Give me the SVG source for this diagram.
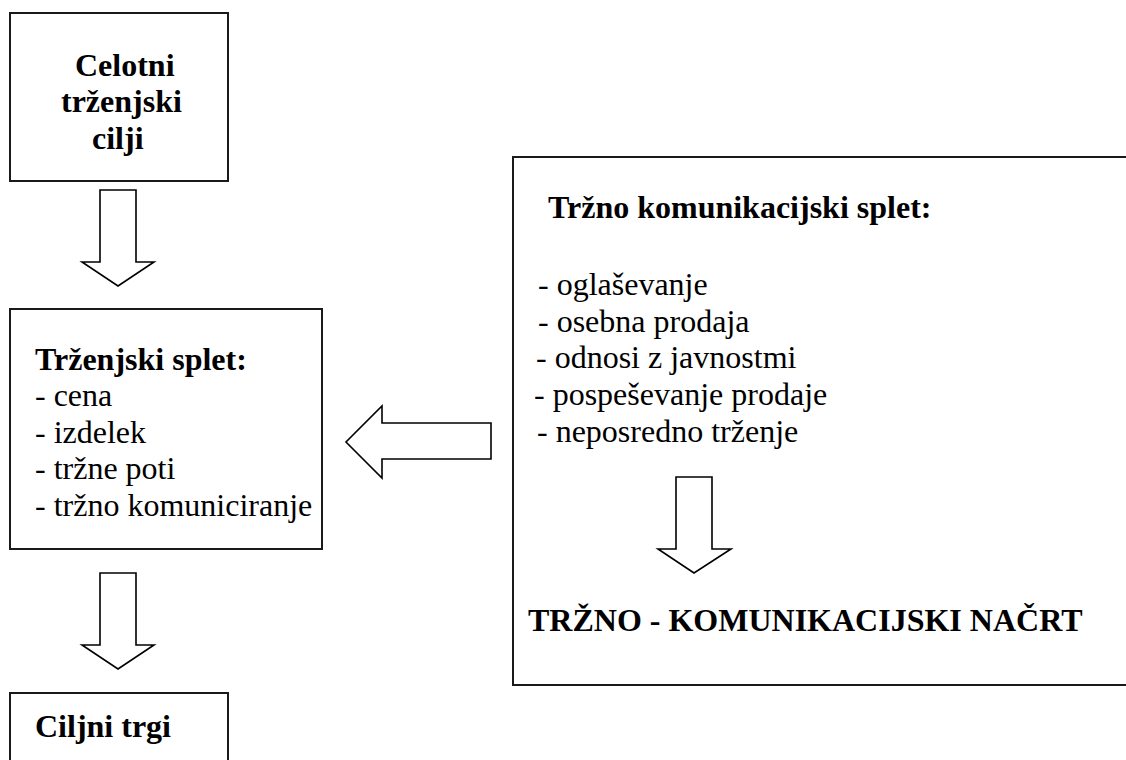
<svg xmlns="http://www.w3.org/2000/svg" width="1126" height="760" viewBox="0 0 1126 760">
<style>
.box{fill:#fff;stroke:#1a1a1a;stroke-width:2}
.arr{fill:#fff;stroke:#000;stroke-width:1.6;stroke-linejoin:miter}
text{font-family:"Liberation Serif","Times New Roman","DejaVu Serif",serif;font-size:32px;fill:#000}
.b{font-weight:bold}
</style>
<rect width="1126" height="760" fill="#fff"/>
<g id="node-celotni">
<rect class="box" x="10" y="13" width="218" height="168"/>
<text class="b" x="75" y="76">Celotni</text>
<text class="b" x="61" y="112">trženjski</text>
<text class="b" x="92" y="149">cilji</text>
</g>
<g id="node-trzenjski-splet">
<rect class="box" x="10" y="309" width="312" height="240"/>
<text class="b" x="35" y="370">Trženjski splet:</text>
<text x="35" y="406">- cena</text>
<text x="35" y="443">- izdelek</text>
<text x="35" y="479">- tržne poti</text>
<text x="35" y="516">- tržno komuniciranje</text>
</g>
<g id="node-ciljni-trgi">
<rect class="box" x="10" y="693" width="218" height="80"/>
<text class="b" x="35" y="737">Ciljni trgi</text>
</g>
<g id="node-trzno-komunikacijski">
<rect class="box" x="513" y="157" width="630" height="528"/>
<text class="b" x="548" y="218">Tržno komunikacijski splet:</text>
<text x="538" y="295">- oglaševanje</text>
<text x="538" y="332">- osebna prodaja</text>
<text x="536" y="368">- odnosi z javnostmi</text>
<text x="534" y="405">- pospeševanje prodaje</text>
<text x="537" y="442">- neposredno trženje</text>
<text class="b" x="528" y="631">TRŽNO - KOMUNIKACIJSKI NAČRT</text>
</g>
<g id="connectors">
<polygon class="arr" points="100,190 136,190 136,262 154,262 118,286 82,262 100,262"/>
<polygon class="arr" points="100,573 136,573 136,645 154,645 118,669 82,645 100,645"/>
<polygon class="arr" points="491,423 491,459 382,459 382,478 346,442 382,406 382,423"/>
<polygon class="arr" points="676,477 712,477 712,549 731,549 694,573 658,549 676,549"/>
</g>
</svg>
